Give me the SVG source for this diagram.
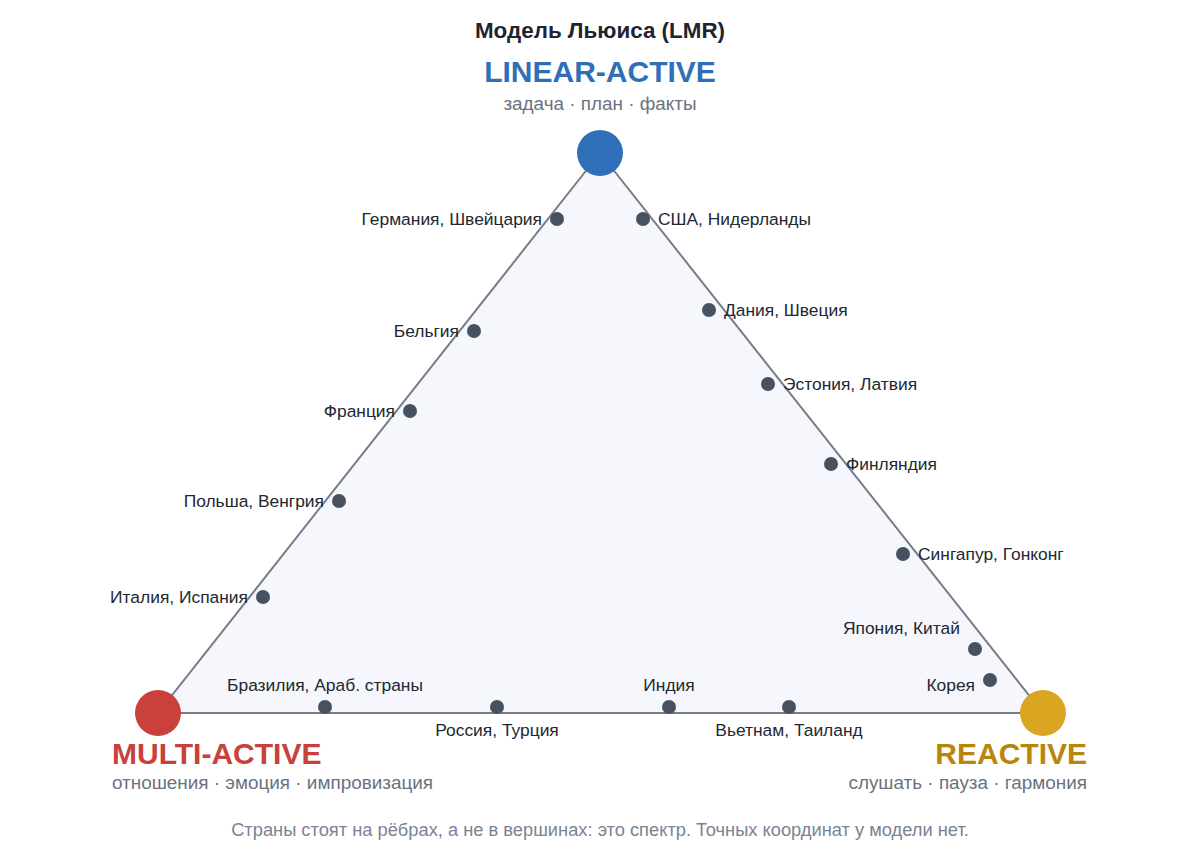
<svg xmlns="http://www.w3.org/2000/svg" width="1200" height="863" viewBox="0 0 1200 863">
<style>
text{font-family:"Liberation Sans",Arial,sans-serif}
.l{font-size:17.4px;fill:#222831}
.s{font-size:18.9px;fill:#6b7280}
.d{fill:#475160}
.h{font-size:30px;font-weight:bold}
</style>
<rect width="1200" height="863" fill="#fff"/>
<text x="600" y="38" text-anchor="middle" font-size="22.4" font-weight="bold" fill="#1f2430">Модель Льюиса (LMR)</text>
<g id="edges">
<polygon points="600,153 158,713 1043,713" fill="#f5f7fc" stroke="#787c88" stroke-width="2"/>
</g>
<g id="linear"><circle cx="600" cy="153" r="23" fill="#2e6fb8"/>
<text x="600" y="82" text-anchor="middle" class="h" fill="#2e6fb8">LINEAR-ACTIVE</text>
<text x="600" y="110" text-anchor="middle" class="s">задача · план · факты</text></g>
<g id="multi"><circle cx="158" cy="713" r="23" fill="#c8413a"/>
<text x="112" y="764" class="h" fill="#c8413a">MULTI-ACTIVE</text>
<text x="112" y="789" class="s">отношения · эмоция · импровизация</text></g>
<g id="reactive"><circle cx="1043" cy="713" r="23" fill="#daa520"/>
<text x="1087" y="764" text-anchor="end" class="h" fill="#b8860b">REACTIVE</text>
<text x="1087" y="789" text-anchor="end" class="s">слушать · пауза · гармония</text></g>
<g id="countries">
<circle class="d" cx="557" cy="219" r="7"/><text class="l" x="542" y="225" text-anchor="end">Германия, Швейцария</text>
<circle class="d" cx="643" cy="219" r="7"/><text class="l" x="658" y="225">США, Нидерланды</text>
<circle class="d" cx="474" cy="331" r="7"/><text class="l" x="459" y="337" text-anchor="end">Бельгия</text>
<circle class="d" cx="410" cy="411" r="7"/><text class="l" x="395" y="417" text-anchor="end">Франция</text>
<circle class="d" cx="339" cy="501" r="7"/><text class="l" x="324" y="507" text-anchor="end">Польша, Венгрия</text>
<circle class="d" cx="263" cy="597" r="7"/><text class="l" x="248" y="603" text-anchor="end">Италия, Испания</text>
<circle class="d" cx="709" cy="310" r="7"/><text class="l" x="724" y="316">Дания, Швеция</text>
<circle class="d" cx="768" cy="384" r="7"/><text class="l" x="783" y="390">Эстония, Латвия</text>
<circle class="d" cx="831" cy="464" r="7"/><text class="l" x="846" y="470">Финляндия</text>
<circle class="d" cx="903" cy="554" r="7"/><text class="l" x="918" y="560">Сингапур, Гонконг</text>
<circle class="d" cx="975" cy="649" r="7"/><text class="l" x="960" y="634" text-anchor="end">Япония, Китай</text>
<circle class="d" cx="990" cy="680" r="7"/><text class="l" x="975" y="691" text-anchor="end">Корея</text>
<circle class="d" cx="325" cy="707" r="7"/><text class="l" x="325" y="691" text-anchor="middle">Бразилия, Араб. страны</text>
<circle class="d" cx="497" cy="707" r="7"/><text class="l" x="497" y="736" text-anchor="middle">Россия, Турция</text>
<circle class="d" cx="669" cy="707" r="7"/><text class="l" x="669" y="691" text-anchor="middle">Индия</text>
<circle class="d" cx="789" cy="707" r="7"/><text class="l" x="789" y="736" text-anchor="middle">Вьетнам, Таиланд</text>
</g>
<text x="600" y="836" text-anchor="middle" font-size="18.3" fill="#7b8394">Страны стоят на рёбрах, а не в вершинах: это спектр. Точных координат у модели нет.</text>
</svg>
